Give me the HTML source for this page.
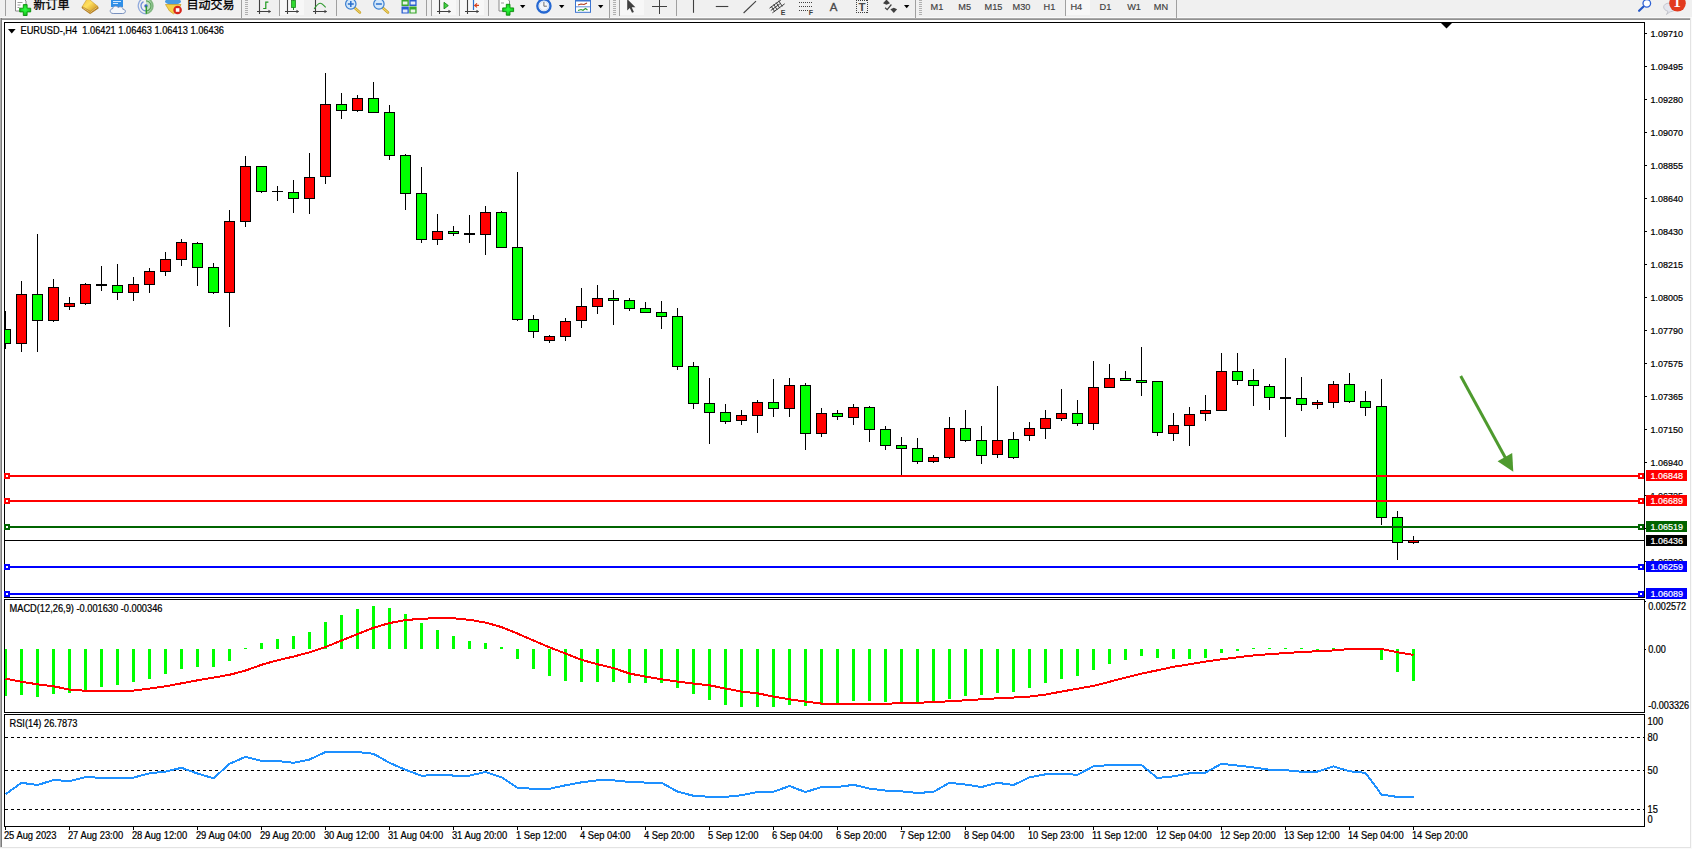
<!DOCTYPE html>
<html><head><meta charset="utf-8"><title>EURUSD-,H4</title>
<style>
html,body{margin:0;padding:0;}
body{width:1692px;height:849px;overflow:hidden;background:#fafafa;position:relative;font-family:"Liberation Sans","Noto Sans CJK SC",sans-serif;}
#frame{position:absolute;left:0;top:18px;width:1690px;height:829px;background:#fff;border-right:1px solid #e3e3e3;border-bottom:1px solid #e3e3e3;}
#fl{position:absolute;left:0;top:18px;width:2px;height:829px;background:linear-gradient(90deg,#acacac 50%,#7c7c7c 50%);}
#ft{position:absolute;left:0;top:18px;width:1690px;height:2px;background:linear-gradient(#b4b4b4,#868686);}
svg{position:absolute;left:0;top:0;}
.t{position:absolute;white-space:pre;color:#000;font-size:9px;line-height:10px;height:10px;-webkit-text-stroke:0.2px #000;transform:scaleY(1.1);transform-origin:0 50%;}
.tag{position:absolute;left:1646px;width:41px;height:11px;color:#fff;font-size:9px;line-height:12px;text-indent:4.5px;white-space:pre;overflow:hidden;-webkit-text-stroke:0.2px #fff;}
.tb{position:absolute;white-space:pre;color:#404040;font-size:9.2px;line-height:10px;top:1.6px;-webkit-text-stroke:0.15px #404040;}
.cj{position:absolute;white-space:pre;color:#000;font-size:12px;line-height:12px;top:-1.5px;-webkit-text-stroke:0.3px #000;}
</style></head><body>
<div id="frame"></div><div id="ft"></div><div id="fl"></div>

<svg id="chart" width="1692" height="849" viewBox="0 0 1692 849">
<g shape-rendering="crispEdges" fill="#000">
<rect x="4" y="22" width="1641" height="1"/>
<rect x="4" y="22" width="1" height="576"/>
<rect x="4" y="597" width="1641" height="1"/>
<rect x="1644" y="22" width="1" height="576"/>
<rect x="4" y="599" width="1641" height="1"/>
<rect x="4" y="599" width="1" height="114"/>
<rect x="4" y="712" width="1641" height="1"/>
<rect x="1644" y="599" width="1" height="114"/>
<rect x="4" y="714" width="1641" height="1"/>
<rect x="4" y="714" width="1" height="113"/>
<rect x="4" y="826" width="1641" height="1"/>
<rect x="1644" y="714" width="1" height="113"/>
<rect x="1645" y="33" width="2" height="1"/>
<rect x="1645" y="66" width="2" height="1"/>
<rect x="1645" y="99" width="2" height="1"/>
<rect x="1645" y="132" width="2" height="1"/>
<rect x="1645" y="165" width="2" height="1"/>
<rect x="1645" y="198" width="2" height="1"/>
<rect x="1645" y="231" width="2" height="1"/>
<rect x="1645" y="264" width="2" height="1"/>
<rect x="1645" y="297" width="2" height="1"/>
<rect x="1645" y="330" width="2" height="1"/>
<rect x="1645" y="363" width="2" height="1"/>
<rect x="1645" y="396" width="2" height="1"/>
<rect x="1645" y="429" width="2" height="1"/>
<rect x="1645" y="462" width="2" height="1"/>
<rect x="1645" y="495" width="2" height="1"/>
<rect x="1645" y="528" width="2" height="1"/>
<rect x="1645" y="561" width="2" height="1"/>
<rect x="1645" y="601" width="1" height="1"/>
<rect x="1645" y="649" width="1" height="1"/>
<rect x="5" y="827" width="1" height="3"/>
<rect x="69" y="827" width="1" height="3"/>
<rect x="133" y="827" width="1" height="3"/>
<rect x="197" y="827" width="1" height="3"/>
<rect x="261" y="827" width="1" height="3"/>
<rect x="325" y="827" width="1" height="3"/>
<rect x="389" y="827" width="1" height="3"/>
<rect x="453" y="827" width="1" height="3"/>
<rect x="517" y="827" width="1" height="3"/>
<rect x="581" y="827" width="1" height="3"/>
<rect x="645" y="827" width="1" height="3"/>
<rect x="709" y="827" width="1" height="3"/>
<rect x="773" y="827" width="1" height="3"/>
<rect x="837" y="827" width="1" height="3"/>
<rect x="901" y="827" width="1" height="3"/>
<rect x="965" y="827" width="1" height="3"/>
<rect x="1029" y="827" width="1" height="3"/>
<rect x="1093" y="827" width="1" height="3"/>
<rect x="1157" y="827" width="1" height="3"/>
<rect x="1221" y="827" width="1" height="3"/>
<rect x="1285" y="827" width="1" height="3"/>
<rect x="1349" y="827" width="1" height="3"/>
<rect x="1413" y="827" width="1" height="3"/>
</g>
<path d="M1441 23h11l-5.5 5.5z" fill="#000"/>
<defs><clipPath id="cm"><rect x="5" y="23" width="1639" height="574"/></clipPath><clipPath id="c2"><rect x="5" y="600" width="1639" height="112"/></clipPath><clipPath id="c3"><rect x="5" y="715" width="1639" height="111"/></clipPath></defs>
<rect x="5" y="540" width="1639" height="1" fill="#000" shape-rendering="crispEdges"/>
<g clip-path="url(#cm)" shape-rendering="crispEdges">
<rect x="5" y="311" width="1" height="38" fill="#000"/>
<rect x="0" y="329" width="11" height="15" fill="#000"/>
<rect x="1" y="330" width="9" height="13" fill="#00ff00"/>
<rect x="21" y="281" width="1" height="71" fill="#000"/>
<rect x="16" y="294" width="11" height="50" fill="#000"/>
<rect x="17" y="295" width="9" height="48" fill="#ff0000"/>
<rect x="37" y="234" width="1" height="118" fill="#000"/>
<rect x="32" y="294" width="11" height="27" fill="#000"/>
<rect x="33" y="295" width="9" height="25" fill="#00ff00"/>
<rect x="53" y="279" width="1" height="43" fill="#000"/>
<rect x="48" y="287" width="11" height="34" fill="#000"/>
<rect x="49" y="288" width="9" height="32" fill="#ff0000"/>
<rect x="69" y="297" width="1" height="13" fill="#000"/>
<rect x="64" y="303" width="11" height="4" fill="#000"/>
<rect x="65" y="304" width="9" height="2" fill="#ff0000"/>
<rect x="85" y="283" width="1" height="22" fill="#000"/>
<rect x="80" y="284" width="11" height="20" fill="#000"/>
<rect x="81" y="285" width="9" height="18" fill="#ff0000"/>
<rect x="101" y="266" width="1" height="25" fill="#000"/>
<rect x="96" y="284" width="11" height="2" fill="#000"/>
<rect x="117" y="264" width="1" height="36" fill="#000"/>
<rect x="112" y="285" width="11" height="8" fill="#000"/>
<rect x="113" y="286" width="9" height="6" fill="#00ff00"/>
<rect x="133" y="277" width="1" height="24" fill="#000"/>
<rect x="128" y="284" width="11" height="9" fill="#000"/>
<rect x="129" y="285" width="9" height="7" fill="#ff0000"/>
<rect x="149" y="268" width="1" height="25" fill="#000"/>
<rect x="144" y="271" width="11" height="14" fill="#000"/>
<rect x="145" y="272" width="9" height="12" fill="#ff0000"/>
<rect x="165" y="252" width="1" height="24" fill="#000"/>
<rect x="160" y="259" width="11" height="13" fill="#000"/>
<rect x="161" y="260" width="9" height="11" fill="#ff0000"/>
<rect x="181" y="239" width="1" height="27" fill="#000"/>
<rect x="176" y="242" width="11" height="18" fill="#000"/>
<rect x="177" y="243" width="9" height="16" fill="#ff0000"/>
<rect x="197" y="242" width="1" height="44" fill="#000"/>
<rect x="192" y="243" width="11" height="25" fill="#000"/>
<rect x="193" y="244" width="9" height="23" fill="#00ff00"/>
<rect x="213" y="263" width="1" height="31" fill="#000"/>
<rect x="208" y="267" width="11" height="26" fill="#000"/>
<rect x="209" y="268" width="9" height="24" fill="#00ff00"/>
<rect x="229" y="210" width="1" height="117" fill="#000"/>
<rect x="224" y="221" width="11" height="72" fill="#000"/>
<rect x="225" y="222" width="9" height="70" fill="#ff0000"/>
<rect x="245" y="156" width="1" height="71" fill="#000"/>
<rect x="240" y="166" width="11" height="56" fill="#000"/>
<rect x="241" y="167" width="9" height="54" fill="#ff0000"/>
<rect x="261" y="166" width="1" height="27" fill="#000"/>
<rect x="256" y="166" width="11" height="26" fill="#000"/>
<rect x="257" y="167" width="9" height="24" fill="#00ff00"/>
<rect x="277" y="186" width="1" height="15" fill="#000"/>
<rect x="272" y="191" width="11" height="1" fill="#000"/>
<rect x="293" y="180" width="1" height="33" fill="#000"/>
<rect x="288" y="192" width="11" height="7" fill="#000"/>
<rect x="289" y="193" width="9" height="5" fill="#00ff00"/>
<rect x="309" y="153" width="1" height="61" fill="#000"/>
<rect x="304" y="177" width="11" height="22" fill="#000"/>
<rect x="305" y="178" width="9" height="20" fill="#ff0000"/>
<rect x="325" y="73" width="1" height="111" fill="#000"/>
<rect x="320" y="104" width="11" height="73" fill="#000"/>
<rect x="321" y="105" width="9" height="71" fill="#ff0000"/>
<rect x="341" y="93" width="1" height="26" fill="#000"/>
<rect x="336" y="104" width="11" height="7" fill="#000"/>
<rect x="337" y="105" width="9" height="5" fill="#00ff00"/>
<rect x="357" y="95" width="1" height="17" fill="#000"/>
<rect x="352" y="98" width="11" height="13" fill="#000"/>
<rect x="353" y="99" width="9" height="11" fill="#ff0000"/>
<rect x="373" y="82" width="1" height="31" fill="#000"/>
<rect x="368" y="98" width="11" height="15" fill="#000"/>
<rect x="369" y="99" width="9" height="13" fill="#00ff00"/>
<rect x="389" y="105" width="1" height="55" fill="#000"/>
<rect x="384" y="112" width="11" height="44" fill="#000"/>
<rect x="385" y="113" width="9" height="42" fill="#00ff00"/>
<rect x="405" y="154" width="1" height="56" fill="#000"/>
<rect x="400" y="155" width="11" height="39" fill="#000"/>
<rect x="401" y="156" width="9" height="37" fill="#00ff00"/>
<rect x="421" y="167" width="1" height="76" fill="#000"/>
<rect x="416" y="193" width="11" height="47" fill="#000"/>
<rect x="417" y="194" width="9" height="45" fill="#00ff00"/>
<rect x="437" y="214" width="1" height="31" fill="#000"/>
<rect x="432" y="231" width="11" height="9" fill="#000"/>
<rect x="433" y="232" width="9" height="7" fill="#ff0000"/>
<rect x="453" y="226" width="1" height="10" fill="#000"/>
<rect x="448" y="231" width="11" height="3" fill="#000"/>
<rect x="449" y="232" width="9" height="1" fill="#00ff00"/>
<rect x="469" y="215" width="1" height="28" fill="#000"/>
<rect x="464" y="233" width="11" height="2" fill="#000"/>
<rect x="485" y="206" width="1" height="49" fill="#000"/>
<rect x="480" y="212" width="11" height="23" fill="#000"/>
<rect x="481" y="213" width="9" height="21" fill="#ff0000"/>
<rect x="501" y="211" width="1" height="37" fill="#000"/>
<rect x="496" y="212" width="11" height="36" fill="#000"/>
<rect x="497" y="213" width="9" height="34" fill="#00ff00"/>
<rect x="517" y="172" width="1" height="149" fill="#000"/>
<rect x="512" y="247" width="11" height="73" fill="#000"/>
<rect x="513" y="248" width="9" height="71" fill="#00ff00"/>
<rect x="533" y="315" width="1" height="23" fill="#000"/>
<rect x="528" y="319" width="11" height="13" fill="#000"/>
<rect x="529" y="320" width="9" height="11" fill="#00ff00"/>
<rect x="549" y="335" width="1" height="8" fill="#000"/>
<rect x="544" y="336" width="11" height="5" fill="#000"/>
<rect x="545" y="337" width="9" height="3" fill="#ff0000"/>
<rect x="565" y="318" width="1" height="23" fill="#000"/>
<rect x="560" y="321" width="11" height="16" fill="#000"/>
<rect x="561" y="322" width="9" height="14" fill="#ff0000"/>
<rect x="581" y="288" width="1" height="40" fill="#000"/>
<rect x="576" y="306" width="11" height="15" fill="#000"/>
<rect x="577" y="307" width="9" height="13" fill="#ff0000"/>
<rect x="597" y="285" width="1" height="29" fill="#000"/>
<rect x="592" y="298" width="11" height="9" fill="#000"/>
<rect x="593" y="299" width="9" height="7" fill="#ff0000"/>
<rect x="613" y="290" width="1" height="35" fill="#000"/>
<rect x="608" y="298" width="11" height="3" fill="#000"/>
<rect x="609" y="299" width="9" height="1" fill="#00ff00"/>
<rect x="629" y="298" width="1" height="13" fill="#000"/>
<rect x="624" y="300" width="11" height="9" fill="#000"/>
<rect x="625" y="301" width="9" height="7" fill="#00ff00"/>
<rect x="645" y="302" width="1" height="11" fill="#000"/>
<rect x="640" y="308" width="11" height="5" fill="#000"/>
<rect x="641" y="309" width="9" height="3" fill="#00ff00"/>
<rect x="661" y="301" width="1" height="28" fill="#000"/>
<rect x="656" y="312" width="11" height="5" fill="#000"/>
<rect x="657" y="313" width="9" height="3" fill="#00ff00"/>
<rect x="677" y="308" width="1" height="62" fill="#000"/>
<rect x="672" y="316" width="11" height="51" fill="#000"/>
<rect x="673" y="317" width="9" height="49" fill="#00ff00"/>
<rect x="693" y="362" width="1" height="47" fill="#000"/>
<rect x="688" y="366" width="11" height="38" fill="#000"/>
<rect x="689" y="367" width="9" height="36" fill="#00ff00"/>
<rect x="709" y="378" width="1" height="66" fill="#000"/>
<rect x="704" y="403" width="11" height="10" fill="#000"/>
<rect x="705" y="404" width="9" height="8" fill="#00ff00"/>
<rect x="725" y="404" width="1" height="20" fill="#000"/>
<rect x="720" y="412" width="11" height="10" fill="#000"/>
<rect x="721" y="413" width="9" height="8" fill="#00ff00"/>
<rect x="741" y="410" width="1" height="15" fill="#000"/>
<rect x="736" y="415" width="11" height="6" fill="#000"/>
<rect x="737" y="416" width="9" height="4" fill="#ff0000"/>
<rect x="757" y="400" width="1" height="33" fill="#000"/>
<rect x="752" y="402" width="11" height="14" fill="#000"/>
<rect x="753" y="403" width="9" height="12" fill="#ff0000"/>
<rect x="773" y="379" width="1" height="38" fill="#000"/>
<rect x="768" y="402" width="11" height="7" fill="#000"/>
<rect x="769" y="403" width="9" height="5" fill="#00ff00"/>
<rect x="789" y="378" width="1" height="39" fill="#000"/>
<rect x="784" y="385" width="11" height="24" fill="#000"/>
<rect x="785" y="386" width="9" height="22" fill="#ff0000"/>
<rect x="805" y="383" width="1" height="67" fill="#000"/>
<rect x="800" y="385" width="11" height="49" fill="#000"/>
<rect x="801" y="386" width="9" height="47" fill="#00ff00"/>
<rect x="821" y="408" width="1" height="29" fill="#000"/>
<rect x="816" y="413" width="11" height="21" fill="#000"/>
<rect x="817" y="414" width="9" height="19" fill="#ff0000"/>
<rect x="837" y="410" width="1" height="10" fill="#000"/>
<rect x="832" y="413" width="11" height="4" fill="#000"/>
<rect x="833" y="414" width="9" height="2" fill="#00ff00"/>
<rect x="853" y="404" width="1" height="21" fill="#000"/>
<rect x="848" y="407" width="11" height="11" fill="#000"/>
<rect x="849" y="408" width="9" height="9" fill="#ff0000"/>
<rect x="869" y="406" width="1" height="36" fill="#000"/>
<rect x="864" y="407" width="11" height="23" fill="#000"/>
<rect x="865" y="408" width="9" height="21" fill="#00ff00"/>
<rect x="885" y="426" width="1" height="24" fill="#000"/>
<rect x="880" y="429" width="11" height="17" fill="#000"/>
<rect x="881" y="430" width="9" height="15" fill="#00ff00"/>
<rect x="901" y="437" width="1" height="39" fill="#000"/>
<rect x="896" y="445" width="11" height="4" fill="#000"/>
<rect x="897" y="446" width="9" height="2" fill="#00ff00"/>
<rect x="917" y="438" width="1" height="26" fill="#000"/>
<rect x="912" y="448" width="11" height="14" fill="#000"/>
<rect x="913" y="449" width="9" height="12" fill="#00ff00"/>
<rect x="933" y="455" width="1" height="8" fill="#000"/>
<rect x="928" y="457" width="11" height="5" fill="#000"/>
<rect x="929" y="458" width="9" height="3" fill="#ff0000"/>
<rect x="949" y="417" width="1" height="42" fill="#000"/>
<rect x="944" y="428" width="11" height="30" fill="#000"/>
<rect x="945" y="429" width="9" height="28" fill="#ff0000"/>
<rect x="965" y="410" width="1" height="32" fill="#000"/>
<rect x="960" y="428" width="11" height="13" fill="#000"/>
<rect x="961" y="429" width="9" height="11" fill="#00ff00"/>
<rect x="981" y="426" width="1" height="38" fill="#000"/>
<rect x="976" y="440" width="11" height="16" fill="#000"/>
<rect x="977" y="441" width="9" height="14" fill="#00ff00"/>
<rect x="997" y="386" width="1" height="72" fill="#000"/>
<rect x="992" y="440" width="11" height="15" fill="#000"/>
<rect x="993" y="441" width="9" height="13" fill="#ff0000"/>
<rect x="1013" y="432" width="1" height="27" fill="#000"/>
<rect x="1008" y="439" width="11" height="19" fill="#000"/>
<rect x="1009" y="440" width="9" height="17" fill="#00ff00"/>
<rect x="1029" y="422" width="1" height="19" fill="#000"/>
<rect x="1024" y="428" width="11" height="8" fill="#000"/>
<rect x="1025" y="429" width="9" height="6" fill="#ff0000"/>
<rect x="1045" y="410" width="1" height="29" fill="#000"/>
<rect x="1040" y="418" width="11" height="11" fill="#000"/>
<rect x="1041" y="419" width="9" height="9" fill="#ff0000"/>
<rect x="1061" y="389" width="1" height="32" fill="#000"/>
<rect x="1056" y="413" width="11" height="6" fill="#000"/>
<rect x="1057" y="414" width="9" height="4" fill="#ff0000"/>
<rect x="1077" y="400" width="1" height="26" fill="#000"/>
<rect x="1072" y="413" width="11" height="11" fill="#000"/>
<rect x="1073" y="414" width="9" height="9" fill="#00ff00"/>
<rect x="1093" y="361" width="1" height="69" fill="#000"/>
<rect x="1088" y="387" width="11" height="37" fill="#000"/>
<rect x="1089" y="388" width="9" height="35" fill="#ff0000"/>
<rect x="1109" y="364" width="1" height="24" fill="#000"/>
<rect x="1104" y="378" width="11" height="10" fill="#000"/>
<rect x="1105" y="379" width="9" height="8" fill="#ff0000"/>
<rect x="1125" y="371" width="1" height="10" fill="#000"/>
<rect x="1120" y="378" width="11" height="3" fill="#000"/>
<rect x="1121" y="379" width="9" height="1" fill="#00ff00"/>
<rect x="1141" y="347" width="1" height="49" fill="#000"/>
<rect x="1136" y="380" width="11" height="3" fill="#000"/>
<rect x="1137" y="381" width="9" height="1" fill="#00ff00"/>
<rect x="1157" y="381" width="1" height="55" fill="#000"/>
<rect x="1152" y="381" width="11" height="52" fill="#000"/>
<rect x="1153" y="382" width="9" height="50" fill="#00ff00"/>
<rect x="1173" y="413" width="1" height="28" fill="#000"/>
<rect x="1168" y="425" width="11" height="9" fill="#000"/>
<rect x="1169" y="426" width="9" height="7" fill="#ff0000"/>
<rect x="1189" y="407" width="1" height="39" fill="#000"/>
<rect x="1184" y="414" width="11" height="12" fill="#000"/>
<rect x="1185" y="415" width="9" height="10" fill="#ff0000"/>
<rect x="1205" y="395" width="1" height="26" fill="#000"/>
<rect x="1200" y="410" width="11" height="4" fill="#000"/>
<rect x="1201" y="411" width="9" height="2" fill="#ff0000"/>
<rect x="1221" y="353" width="1" height="58" fill="#000"/>
<rect x="1216" y="371" width="11" height="40" fill="#000"/>
<rect x="1217" y="372" width="9" height="38" fill="#ff0000"/>
<rect x="1237" y="353" width="1" height="32" fill="#000"/>
<rect x="1232" y="371" width="11" height="10" fill="#000"/>
<rect x="1233" y="372" width="9" height="8" fill="#00ff00"/>
<rect x="1253" y="369" width="1" height="37" fill="#000"/>
<rect x="1248" y="380" width="11" height="6" fill="#000"/>
<rect x="1249" y="381" width="9" height="4" fill="#00ff00"/>
<rect x="1269" y="384" width="1" height="26" fill="#000"/>
<rect x="1264" y="386" width="11" height="12" fill="#000"/>
<rect x="1265" y="387" width="9" height="10" fill="#00ff00"/>
<rect x="1285" y="358" width="1" height="79" fill="#000"/>
<rect x="1280" y="397" width="11" height="2" fill="#000"/>
<rect x="1301" y="377" width="1" height="34" fill="#000"/>
<rect x="1296" y="398" width="11" height="7" fill="#000"/>
<rect x="1297" y="399" width="9" height="5" fill="#00ff00"/>
<rect x="1317" y="400" width="1" height="9" fill="#000"/>
<rect x="1312" y="402" width="11" height="3" fill="#000"/>
<rect x="1313" y="403" width="9" height="1" fill="#ff0000"/>
<rect x="1333" y="381" width="1" height="27" fill="#000"/>
<rect x="1328" y="384" width="11" height="19" fill="#000"/>
<rect x="1329" y="385" width="9" height="17" fill="#ff0000"/>
<rect x="1349" y="373" width="1" height="30" fill="#000"/>
<rect x="1344" y="384" width="11" height="18" fill="#000"/>
<rect x="1345" y="385" width="9" height="16" fill="#00ff00"/>
<rect x="1365" y="391" width="1" height="25" fill="#000"/>
<rect x="1360" y="401" width="11" height="7" fill="#000"/>
<rect x="1361" y="402" width="9" height="5" fill="#00ff00"/>
<rect x="1381" y="379" width="1" height="146" fill="#000"/>
<rect x="1376" y="406" width="11" height="112" fill="#000"/>
<rect x="1377" y="407" width="9" height="110" fill="#00ff00"/>
<rect x="1397" y="511" width="1" height="49" fill="#000"/>
<rect x="1392" y="517" width="11" height="26" fill="#000"/>
<rect x="1393" y="518" width="9" height="24" fill="#00ff00"/>
<rect x="1413" y="536" width="1" height="8" fill="#000"/>
<rect x="1408" y="540" width="11" height="3" fill="#000"/>
<rect x="1409" y="541" width="9" height="1" fill="#ff0000"/>
</g>
<g shape-rendering="crispEdges">
<rect x="5" y="475" width="1639" height="2" fill="#ff0000"/>
<rect x="4" y="473" width="6" height="6" fill="#ff0000"/><rect x="6" y="475" width="2" height="2" fill="#fff"/>
<rect x="1638" y="473" width="6" height="6" fill="#ff0000"/><rect x="1640" y="475" width="2" height="2" fill="#fff"/>
<rect x="5" y="500" width="1639" height="2" fill="#ff0000"/>
<rect x="4" y="498" width="6" height="6" fill="#ff0000"/><rect x="6" y="500" width="2" height="2" fill="#fff"/>
<rect x="1638" y="498" width="6" height="6" fill="#ff0000"/><rect x="1640" y="500" width="2" height="2" fill="#fff"/>
<rect x="5" y="526" width="1639" height="2" fill="#006400"/>
<rect x="4" y="524" width="6" height="6" fill="#006400"/><rect x="6" y="526" width="2" height="2" fill="#fff"/>
<rect x="1638" y="524" width="6" height="6" fill="#006400"/><rect x="1640" y="526" width="2" height="2" fill="#fff"/>
<rect x="5" y="566" width="1639" height="2" fill="#0000ff"/>
<rect x="4" y="564" width="6" height="6" fill="#0000ff"/><rect x="6" y="566" width="2" height="2" fill="#fff"/>
<rect x="1638" y="564" width="6" height="6" fill="#0000ff"/><rect x="1640" y="566" width="2" height="2" fill="#fff"/>
<rect x="5" y="593" width="1639" height="2" fill="#0000ff"/>
<rect x="4" y="591" width="6" height="6" fill="#0000ff"/><rect x="6" y="593" width="2" height="2" fill="#fff"/>
<rect x="1638" y="591" width="6" height="6" fill="#0000ff"/><rect x="1640" y="593" width="2" height="2" fill="#fff"/>
</g>
<g fill="#4e9a2e" stroke="none"><path d="M1459.4 376.7L1462 375.3L1507.5 458.5L1504.9 459.9z"/><path d="M1513.3 471.8L1497.6 461.2L1512.2 453z"/></g>
<g clip-path="url(#c2)">
<g shape-rendering="crispEdges" fill="#00ff00">
<rect x="4" y="649" width="3" height="47"/>
<rect x="20" y="649" width="3" height="46"/>
<rect x="36" y="649" width="3" height="48"/>
<rect x="52" y="649" width="3" height="45"/>
<rect x="68" y="649" width="3" height="44"/>
<rect x="84" y="649" width="3" height="41"/>
<rect x="100" y="649" width="3" height="38"/>
<rect x="116" y="649" width="3" height="36"/>
<rect x="132" y="649" width="3" height="33"/>
<rect x="148" y="649" width="3" height="30"/>
<rect x="164" y="649" width="3" height="25"/>
<rect x="180" y="649" width="3" height="20"/>
<rect x="196" y="649" width="3" height="18"/>
<rect x="212" y="649" width="3" height="18"/>
<rect x="228" y="649" width="3" height="12"/>
<rect x="244" y="648" width="3" height="1"/>
<rect x="260" y="643" width="3" height="6"/>
<rect x="276" y="639" width="3" height="10"/>
<rect x="292" y="636" width="3" height="13"/>
<rect x="308" y="632" width="3" height="17"/>
<rect x="324" y="622" width="3" height="27"/>
<rect x="340" y="615" width="3" height="34"/>
<rect x="356" y="609" width="3" height="40"/>
<rect x="372" y="606" width="3" height="43"/>
<rect x="388" y="608" width="3" height="41"/>
<rect x="404" y="614" width="3" height="35"/>
<rect x="420" y="623" width="3" height="26"/>
<rect x="436" y="630" width="3" height="19"/>
<rect x="452" y="636" width="3" height="13"/>
<rect x="468" y="641" width="3" height="8"/>
<rect x="484" y="643" width="3" height="6"/>
<rect x="500" y="647" width="3" height="2"/>
<rect x="516" y="649" width="3" height="10"/>
<rect x="532" y="649" width="3" height="20"/>
<rect x="548" y="649" width="3" height="27"/>
<rect x="564" y="649" width="3" height="32"/>
<rect x="580" y="649" width="3" height="33"/>
<rect x="596" y="649" width="3" height="33"/>
<rect x="612" y="649" width="3" height="33"/>
<rect x="628" y="649" width="3" height="34"/>
<rect x="644" y="649" width="3" height="34"/>
<rect x="660" y="649" width="3" height="34"/>
<rect x="676" y="649" width="3" height="39"/>
<rect x="692" y="649" width="3" height="45"/>
<rect x="708" y="649" width="3" height="51"/>
<rect x="724" y="649" width="3" height="56"/>
<rect x="740" y="649" width="3" height="58"/>
<rect x="756" y="649" width="3" height="58"/>
<rect x="772" y="649" width="3" height="58"/>
<rect x="788" y="649" width="3" height="56"/>
<rect x="804" y="649" width="3" height="57"/>
<rect x="820" y="649" width="3" height="56"/>
<rect x="836" y="649" width="3" height="54"/>
<rect x="852" y="649" width="3" height="52"/>
<rect x="868" y="649" width="3" height="52"/>
<rect x="884" y="649" width="3" height="53"/>
<rect x="900" y="649" width="3" height="54"/>
<rect x="916" y="649" width="3" height="54"/>
<rect x="932" y="649" width="3" height="52"/>
<rect x="948" y="649" width="3" height="50"/>
<rect x="964" y="649" width="3" height="47"/>
<rect x="980" y="649" width="3" height="46"/>
<rect x="996" y="649" width="3" height="44"/>
<rect x="1012" y="649" width="3" height="43"/>
<rect x="1028" y="649" width="3" height="39"/>
<rect x="1044" y="649" width="3" height="34"/>
<rect x="1060" y="649" width="3" height="30"/>
<rect x="1076" y="649" width="3" height="27"/>
<rect x="1092" y="649" width="3" height="21"/>
<rect x="1108" y="649" width="3" height="15"/>
<rect x="1124" y="649" width="3" height="11"/>
<rect x="1140" y="649" width="3" height="7"/>
<rect x="1156" y="649" width="3" height="9"/>
<rect x="1172" y="649" width="3" height="10"/>
<rect x="1188" y="649" width="3" height="10"/>
<rect x="1204" y="649" width="3" height="9"/>
<rect x="1220" y="649" width="3" height="4"/>
<rect x="1236" y="649" width="3" height="2"/>
<rect x="1252" y="648" width="3" height="1"/>
<rect x="1268" y="648" width="3" height="1"/>
<rect x="1284" y="648" width="3" height="1"/>
<rect x="1300" y="648" width="3" height="1"/>
<rect x="1316" y="649" width="3" height="1"/>
<rect x="1332" y="648" width="3" height="1"/>
<rect x="1348" y="649" width="3" height="1"/>
<rect x="1364" y="649" width="3" height="1"/>
<rect x="1380" y="649" width="3" height="11"/>
<rect x="1396" y="649" width="3" height="23"/>
<rect x="1412" y="649" width="3" height="32"/>
</g>
<polyline points="5.5,678.55 21.5,681.80 37.5,684.30 53.5,686.30 69.5,689.55 85.5,690.80 101.5,690.80 117.5,690.80 133.5,690.55 149.5,688.55 165.5,686.30 181.5,683.30 197.5,680.30 213.5,677.55 229.5,674.80 245.5,670.55 261.5,664.80 277.5,660.30 293.5,656.55 309.5,652.30 325.5,647.05 341.5,640.55 357.5,634.05 373.5,627.80 389.5,623.05 405.5,620.05 421.5,618.80 437.5,618.05 453.5,618.30 469.5,619.80 485.5,622.55 501.5,627.05 517.5,633.55 533.5,640.55 549.5,647.30 565.5,653.55 581.5,659.80 597.5,664.30 613.5,668.05 629.5,673.55 645.5,676.55 661.5,679.30 677.5,681.55 693.5,683.55 709.5,685.30 725.5,688.55 741.5,691.55 757.5,693.30 773.5,696.55 789.5,699.30 805.5,701.55 821.5,703.55 837.5,704.05 853.5,704.05 869.5,704.05 885.5,703.80 901.5,703.05 917.5,702.80 933.5,702.05 949.5,701.30 965.5,700.30 981.5,699.30 997.5,698.30 1013.5,697.55 1029.5,696.55 1045.5,694.55 1061.5,691.55 1077.5,688.80 1093.5,685.80 1109.5,681.80 1125.5,677.55 1141.5,673.55 1157.5,670.30 1173.5,666.80 1189.5,664.30 1205.5,661.55 1221.5,659.30 1237.5,657.30 1253.5,655.45 1269.5,654.15 1285.5,653.05 1301.5,652.05 1317.5,651.25 1333.5,650.45 1349.5,649.05 1365.5,648.75 1381.5,649.05 1397.5,652.25 1413.5,654.95" fill="none" stroke="#ff0000" stroke-width="2" stroke-linejoin="round" shape-rendering="crispEdges"/>
</g>
<g clip-path="url(#c3)">
<line x1="5" y1="737.5" x2="1644" y2="737.5" stroke="#000" stroke-width="1" stroke-dasharray="3 3" shape-rendering="crispEdges"/>
<line x1="5" y1="770.5" x2="1644" y2="770.5" stroke="#000" stroke-width="1" stroke-dasharray="3 3" shape-rendering="crispEdges"/>
<line x1="5" y1="809.5" x2="1644" y2="809.5" stroke="#000" stroke-width="1" stroke-dasharray="3 3" shape-rendering="crispEdges"/>
<polyline points="5.5,794.30 21.5,782.80 37.5,785.05 53.5,780.05 69.5,781.05 85.5,777.05 101.5,777.80 117.5,777.80 133.5,777.55 149.5,773.30 165.5,771.55 181.5,767.80 197.5,773.55 213.5,778.30 229.5,763.80 245.5,756.80 261.5,760.80 277.5,761.05 293.5,762.80 309.5,759.55 325.5,752.05 341.5,752.05 357.5,752.05 373.5,753.80 389.5,762.80 405.5,769.80 421.5,775.80 437.5,774.80 453.5,775.55 469.5,775.55 485.5,772.05 501.5,777.30 517.5,787.80 533.5,788.80 549.5,788.80 565.5,785.30 581.5,782.30 597.5,780.30 613.5,780.30 629.5,782.05 645.5,782.55 661.5,782.80 677.5,791.55 693.5,795.80 709.5,796.80 725.5,796.80 741.5,795.30 757.5,792.05 773.5,791.80 789.5,786.05 805.5,792.05 821.5,787.05 837.5,787.05 853.5,784.80 869.5,788.55 885.5,790.55 901.5,791.30 917.5,793.05 933.5,791.80 949.5,782.80 965.5,784.55 981.5,787.05 997.5,782.80 1013.5,785.05 1029.5,777.30 1045.5,774.30 1061.5,773.80 1077.5,774.80 1093.5,766.30 1109.5,765.05 1125.5,765.05 1141.5,765.05 1157.5,778.05 1173.5,776.30 1189.5,773.30 1205.5,772.55 1221.5,763.80 1237.5,765.55 1253.5,767.45 1269.5,769.65 1285.5,770.15 1301.5,771.75 1317.5,771.55 1333.5,766.45 1349.5,771.25 1365.5,772.85 1381.5,794.55 1397.5,796.95 1413.5,796.95" fill="none" stroke="#1e90ff" stroke-width="2" stroke-linejoin="round" shape-rendering="crispEdges"/>
</g>
</svg>
<div class="t" style="left:20.5px;top:26px;font-size:9.27px" id="t1">EURUSD-,H4  1.06421 1.06463 1.06413 1.06436</div>
<svg width="8" height="5" style="left:8px;top:29px" viewBox="0 0 8 5"><path d="M0 0h7.6l-3.8 4.4z" fill="#000"/></svg>
<div class="t" style="left:9.5px;top:604.4px;font-size:9.27px" id="t2">MACD(12,26,9) -0.001630 -0.000346</div>
<div class="t" style="left:9.5px;top:719px;font-size:9.27px" id="t3">RSI(14) 26.7873</div>
<div class="t" style="left:1650.5px;top:28.6px;">1.09710</div>
<div class="t" style="left:1650.5px;top:61.6px;">1.09495</div>
<div class="t" style="left:1650.5px;top:94.6px;">1.09280</div>
<div class="t" style="left:1650.5px;top:127.6px;">1.09070</div>
<div class="t" style="left:1650.5px;top:160.6px;">1.08855</div>
<div class="t" style="left:1650.5px;top:193.6px;">1.08640</div>
<div class="t" style="left:1650.5px;top:226.6px;">1.08430</div>
<div class="t" style="left:1650.5px;top:259.6px;">1.08215</div>
<div class="t" style="left:1650.5px;top:292.6px;">1.08005</div>
<div class="t" style="left:1650.5px;top:325.6px;">1.07790</div>
<div class="t" style="left:1650.5px;top:358.6px;">1.07575</div>
<div class="t" style="left:1650.5px;top:391.6px;">1.07365</div>
<div class="t" style="left:1650.5px;top:424.6px;">1.07150</div>
<div class="t" style="left:1650.5px;top:457.6px;">1.06940</div>
<div class="t" style="left:1650.5px;top:490.6px;">1.06725</div>
<div class="t" style="left:1650.5px;top:523.6px;">1.06510</div>
<div class="t" style="left:1650.5px;top:556.6px;">1.06300</div>
<div class="tag" style="top:470px;background:#ff0000;">1.06848</div>
<div class="tag" style="top:495px;background:#ff0000;">1.06689</div>
<div class="tag" style="top:521px;background:#006400;">1.06519</div>
<div class="tag" style="top:535px;background:#000;">1.06436</div>
<div class="tag" style="top:561px;background:#0000ff;">1.06259</div>
<div class="tag" style="top:588px;background:#0000ff;">1.06089</div>
<div class="t" style="left:1648.2px;top:601.9px;font-size:9.1px">0.002572</div>
<div class="t" style="left:1648.2px;top:644.6px;font-size:9.1px">0.00</div>
<div class="t" style="left:1648.2px;top:700.9px;font-size:9.1px">-0.003326</div>
<div class="t" style="left:1647.6px;top:716.5px;font-size:9.3px">100</div>
<div class="t" style="left:1647.6px;top:732.5px;font-size:9.3px">80</div>
<div class="t" style="left:1647.6px;top:765.5px;font-size:9.3px">50</div>
<div class="t" style="left:1647.6px;top:804.5px;font-size:9.3px">15</div>
<div class="t" style="left:1647.6px;top:814.5px;font-size:9.3px">0</div>
<div class="t" style="left:3.9px;top:831.4px;font-size:9.4px">25 Aug 2023</div>
<div class="t" style="left:67.9px;top:831.4px;font-size:9.4px">27 Aug 23:00</div>
<div class="t" style="left:131.9px;top:831.4px;font-size:9.4px">28 Aug 12:00</div>
<div class="t" style="left:195.9px;top:831.4px;font-size:9.4px">29 Aug 04:00</div>
<div class="t" style="left:259.9px;top:831.4px;font-size:9.4px">29 Aug 20:00</div>
<div class="t" style="left:323.9px;top:831.4px;font-size:9.4px">30 Aug 12:00</div>
<div class="t" style="left:387.9px;top:831.4px;font-size:9.4px">31 Aug 04:00</div>
<div class="t" style="left:451.9px;top:831.4px;font-size:9.4px">31 Aug 20:00</div>
<div class="t" style="left:515.9px;top:831.4px;font-size:9.4px">1 Sep 12:00</div>
<div class="t" style="left:579.9px;top:831.4px;font-size:9.4px">4 Sep 04:00</div>
<div class="t" style="left:643.9px;top:831.4px;font-size:9.4px">4 Sep 20:00</div>
<div class="t" style="left:707.9px;top:831.4px;font-size:9.4px">5 Sep 12:00</div>
<div class="t" style="left:771.9px;top:831.4px;font-size:9.4px">6 Sep 04:00</div>
<div class="t" style="left:835.9px;top:831.4px;font-size:9.4px">6 Sep 20:00</div>
<div class="t" style="left:899.9px;top:831.4px;font-size:9.4px">7 Sep 12:00</div>
<div class="t" style="left:963.9px;top:831.4px;font-size:9.4px">8 Sep 04:00</div>
<div class="t" style="left:1027.9px;top:831.4px;font-size:9.4px">10 Sep 23:00</div>
<div class="t" style="left:1091.9px;top:831.4px;font-size:9.4px">11 Sep 12:00</div>
<div class="t" style="left:1155.9px;top:831.4px;font-size:9.4px">12 Sep 04:00</div>
<div class="t" style="left:1219.9px;top:831.4px;font-size:9.4px">12 Sep 20:00</div>
<div class="t" style="left:1283.9px;top:831.4px;font-size:9.4px">13 Sep 12:00</div>
<div class="t" style="left:1347.9px;top:831.4px;font-size:9.4px">14 Sep 04:00</div>
<div class="t" style="left:1411.9px;top:831.4px;font-size:9.4px">14 Sep 20:00</div>
<div id="tbbg" style="position:absolute;left:0;top:0;width:1692px;height:18px;background:#f0f0f0;"></div><div style="position:absolute;left:0;top:17px;width:1692px;height:1px;background:#f9f9f9"></div>
<div style="position:absolute;left:280px;top:0;width:24px;height:15px;background:#f7f7f7;"></div>
<div style="position:absolute;left:432px;top:0;width:24px;height:15px;background:#f7f7f7;"></div>
<div style="position:absolute;left:460px;top:0;width:24px;height:15px;background:#f7f7f7;"></div>
<div style="position:absolute;left:620px;top:0;width:24px;height:15px;background:#f7f7f7;"></div>
<div style="position:absolute;left:1066px;top:0;width:24px;height:15px;background:#f7f7f7;"></div>
<svg id="tb" width="1692" height="18" viewBox="0 0 1692 18">
<defs><radialGradient id="pg" cx=".5" cy=".45" r=".6"><stop offset="0" stop-color="#30ff40"/><stop offset=".6" stop-color="#1cd82a"/><stop offset="1" stop-color="#0fae1a"/></radialGradient></defs>
<g shape-rendering="crispEdges" fill="#a0a0a0">
<rect x="5" y="0" width="1" height="16"/>
<rect x="241" y="0" width="1" height="18"/>
<rect x="279" y="0" width="1" height="16"/>
<rect x="336" y="0" width="1" height="16"/>
<rect x="426" y="0" width="1" height="16"/>
<rect x="431" y="0" width="1" height="16"/>
<rect x="459" y="0" width="1" height="16"/>
<rect x="488" y="0" width="1" height="16"/>
<rect x="609" y="0" width="1" height="18"/>
<rect x="619" y="0" width="1" height="16"/>
<rect x="676" y="0" width="1" height="16"/>
<rect x="915" y="0" width="1" height="18"/>
<rect x="1065" y="0" width="1" height="16"/>
<rect x="1176" y="0" width="1" height="18"/>
</g>
<g shape-rendering="crispEdges" fill="#b0b0b0">
<rect x="245" y="0" width="3" height="1"/>
<rect x="245" y="2" width="3" height="1"/>
<rect x="245" y="4" width="3" height="1"/>
<rect x="245" y="6" width="3" height="1"/>
<rect x="245" y="8" width="3" height="1"/>
<rect x="245" y="10" width="3" height="1"/>
<rect x="245" y="12" width="3" height="1"/>
<rect x="245" y="14" width="3" height="1"/>
<rect x="613" y="0" width="3" height="1"/>
<rect x="613" y="2" width="3" height="1"/>
<rect x="613" y="4" width="3" height="1"/>
<rect x="613" y="6" width="3" height="1"/>
<rect x="613" y="8" width="3" height="1"/>
<rect x="613" y="10" width="3" height="1"/>
<rect x="613" y="12" width="3" height="1"/>
<rect x="613" y="14" width="3" height="1"/>
<rect x="919" y="0" width="3" height="1"/>
<rect x="919" y="2" width="3" height="1"/>
<rect x="919" y="4" width="3" height="1"/>
<rect x="919" y="6" width="3" height="1"/>
<rect x="919" y="8" width="3" height="1"/>
<rect x="919" y="10" width="3" height="1"/>
<rect x="919" y="12" width="3" height="1"/>
<rect x="919" y="14" width="3" height="1"/>
</g>
<g><path d="M15.5 -2h7.5l3 3v10h-10.5z" fill="#fff" stroke="#8a8a8a" stroke-width="1"/><path d="M17.5 2.5h5M17.5 5h3M17.5 7.5h2" stroke="#9a9a9a" stroke-width="1" fill="none"/><path d="M23.3 4.6h3.8v3.6h3.6v3.7h-3.6v3.6h-3.8v-3.6h-3.6v-3.7h3.6z" fill="url(#pg)" stroke="#0b8f0b" stroke-width="0.9" stroke-linejoin="round"/></g>
<defs><linearGradient id="gb" x1="0" y1="0" x2="1" y2="1"><stop offset="0" stop-color="#f0c040"/><stop offset=".45" stop-color="#ffe060"/><stop offset="1" stop-color="#c88a18"/></linearGradient></defs>
<g><path d="M82.300 6.500L90.500 11.200L97.600 6.200L98.400 8.200L90.100 13.800L81.900 7.900z" fill="#b87c14" stroke="#a06a10" stroke-width="0.500" stroke-linejoin="round"/><path d="M87.600 -2L97.600 6.200L90.500 11.200L82.300 6.500z" fill="url(#gb)" stroke="#c08a1c" stroke-width="0.500"/><path d="M82.800 7.600l7.400 4.700l7.300-5.200" stroke="#f3dc98" stroke-width="0.700" fill="none"/></g>
<g><rect x="111" y="-2" width="12" height="9" fill="#2f8fe8"/><path d="M113 1.5h8M113 3.5h5" stroke="#cfe6ff" stroke-width="1"/><path d="M113.2 13.500c-3.800 0-3.900-4.600-.6-4.800c.3-3 4.300-3.600 5.600-1.100c1.800-1.700 4.900-.6 4.700 1.700c3.300 0 3.400 4.200-.2 4.200z" fill="#f4f7fb" stroke="#6b86b8" stroke-width="0.9"/></g>
<g fill="none"><path d="M146 -2a7.900 7.900 0 0 1 0 15.800z" fill="#9fd09f" opacity=".55"/><path d="M146 -2a8 8 0 0 1 0 15.800" stroke="#6aa86a" stroke-width="1.6" opacity=".75"/><path d="M146 13.800a8 8 0 0 1-3-15.300" stroke="#8fa8dc" stroke-width="1.300"/><path d="M146 0.900a5 5 0 0 1 0 10" stroke="#59a559" stroke-width="1.300"/><path d="M146 10.900a5 5 0 0 1-2.500-9.300" stroke="#6f8fd6" stroke-width="1.300"/><circle cx="146" cy="5.900" r="1.700" fill="#3a66c8"/><path d="M146.300 6v7.700" stroke="#2f9a2f" stroke-width="1.500"/></g>
<g><ellipse cx="173" cy="1.500" rx="8" ry="3.200" fill="#4a9be0"/><path d="M165.500 4.500h15.500l-3.500 6.500l-4 2.800l-4-2.800z" fill="#f4d14a" stroke="#c79a1e" stroke-width="0.700"/><circle cx="177.600" cy="10" r="4.300" fill="#d8261c"/><rect x="175.800" y="8.200" width="3.600" height="3.600" fill="#fff"/></g>
<g><path d="M259.5 0v14M257 11.500h13.500" stroke="#404040" stroke-width="1.100" fill="none"/><path d="M268.5 9.800l2.500 1.700l-2.500 1.700z" fill="#404040"/><path d="M265.800 1.500v7.600M265.800 2.200h2.600M263.200 8.500h2.600" stroke="#1f9a1f" stroke-width="1.200" fill="none" stroke-linejoin="miter"/></g>
<g><path d="M287.5 0v14M285 11.500h13.500" stroke="#404040" stroke-width="1.100" fill="none"/><path d="M296.5 9.800l2.500 1.700l-2.500 1.700z" fill="#404040"/><path d="M293.500 -1v11" stroke="#1f8a1f" stroke-width="1"/><rect x="291.500" y="0.500" width="4" height="7" fill="#2fd82f" stroke="#1f8a1f" stroke-width="0.800"/></g>
<g><path d="M315.5 0v14M313 11.500h13.500" stroke="#404040" stroke-width="1.100" fill="none"/><path d="M324.5 9.800l2.500 1.700l-2.500 1.700z" fill="#404040"/><path d="M314.200 8.900c2-3 4.200-5.600 6.200-5.600s3.300 2 5.300 4" stroke="#2f9a2f" stroke-width="1.100" fill="none"/></g>
<g><path d="M354.3 7.600l5.600 4.800" stroke="#c9a227" stroke-width="2.600" stroke-linecap="round"/><path d="M354.3 7.600l5.600 4.800" stroke="#f1d66a" stroke-width="1.100" stroke-linecap="round"/><circle cx="350.8" cy="4" r="5.200" fill="#d4e8fa" stroke="#3b7fd0" stroke-width="1.200"/><path d="M347.8 4h6M350.8 1v6" stroke="#2a6fcc" stroke-width="1.500"/></g>
<g><path d="M382.4 7.600l5.600 4.800" stroke="#c9a227" stroke-width="2.600" stroke-linecap="round"/><path d="M382.4 7.600l5.600 4.800" stroke="#f1d66a" stroke-width="1.100" stroke-linecap="round"/><circle cx="378.9" cy="4" r="5.200" fill="#d4e8fa" stroke="#3b7fd0" stroke-width="1.200"/><path d="M375.9 4h6" stroke="#2a6fcc" stroke-width="1.500"/></g>
<g><rect x="401.500" y="-1" width="7.300" height="7" fill="#3aa82e"/><rect x="409.300" y="-1" width="7.300" height="7" fill="#2b5fd0"/><rect x="401.500" y="6.500" width="7.300" height="7" fill="#2b5fd0"/><rect x="409.300" y="6.500" width="7.300" height="7" fill="#3aa82e"/><rect x="402.800" y="1.500" width="4.700" height="3" fill="#eaf6e6"/><rect x="410.600" y="1.500" width="4.700" height="3" fill="#e6ecfa"/><rect x="402.800" y="9.500" width="4.700" height="3" fill="#e6ecfa"/><rect x="410.600" y="9.500" width="4.700" height="3" fill="#eaf6e6"/></g>
<g><path d="M439.5 0v14M437 11.500h13.500" stroke="#404040" stroke-width="1.100" fill="none"/><path d="M448.5 9.800l2.500 1.700l-2.500 1.700z" fill="#404040"/><path d="M444 2.300l4.300 3.300l-4.300 3.300z" fill="#3fd43f" stroke="#1f8a1f" stroke-width="0.900"/></g>
<g><path d="M467.5 0v14M465 11.500h13.500" stroke="#404040" stroke-width="1.100" fill="none"/><path d="M476.5 9.800l2.500 1.700l-2.500 1.700z" fill="#404040"/><path d="M473.500 0v10" stroke="#2a6fcc" stroke-width="1.200"/><path d="M479 5.400h-4M477 3.400l-2.300 2l2.300 2" stroke="#d8421c" stroke-width="1.200" fill="none"/></g>
<g><path d="M499 -2h7.500l3 3v10h-10.500z" fill="#fff" stroke="#8a8a8a" stroke-width="1"/><path d="M501 3h3" stroke="#9a9a9a"/><path d="M506.300 4.300h3.700v3.600h3.600v3.700h-3.600v3.600h-3.700v-3.600h-3.600v-3.700h3.600z" fill="url(#pg)" stroke="#0b8f0b" stroke-width="0.900" stroke-linejoin="round"/></g>
<path d="M520 5h5.400l-2.700 3.200z" fill="#000"/>
<path d="M559 5h5.400l-2.700 3.200z" fill="#000"/>
<path d="M598 5h5.400l-2.700 3.200z" fill="#000"/>
<path d="M904 5h5.400l-2.700 3.200z" fill="#000"/>
<g><circle cx="543.900" cy="5.900" r="6.600" fill="#f2f6fb" stroke="#2467d2" stroke-width="2.300"/><circle cx="543.900" cy="5.900" r="4.600" fill="none" stroke="#c8d8ee" stroke-width="0.800"/><path d="M543.900 2v4.200h3" stroke="#707070" stroke-width="1" fill="none"/></g>
<g><rect x="575.500" y="-1" width="15" height="13.300" fill="#fff" stroke="#3b74d0" stroke-width="1"/><rect x="575.500" y="-1" width="15" height="2.500" fill="#3b74d0"/><path d="M575.500 6.800h15" stroke="#3b74d0" stroke-width="0.800"/><path d="M578 5l3-1l3 .500l3-1.500" stroke="#b03a1a" stroke-width="1.100" fill="none"/><path d="M578 10.500l3-1l2 .800l2.500-1.800l2 1.500" stroke="#2f9a2f" stroke-width="1.100" fill="none"/></g>
<path d="M627.200 -1v11.500l2.600-2.400l2.200 4.700l1.900-.900l-2.200-4.600h3.700z" fill="#404040"/>
<path d="M659.500 0v14M652 6.500h15" stroke="#404040" stroke-width="1" fill="none"/>
<path d="M693.500 0v12.800" stroke="#404040" stroke-width="1.100"/><path d="M715.800 6.500h12.500" stroke="#404040" stroke-width="1.100"/><path d="M743.600 13L756 1.200" stroke="#404040" stroke-width="1.100"/>
<g stroke="#404040" stroke-width="1" fill="none"><path d="M769.500 8.200L781 -0.200M772.400 12.800L784.700 3.800M771.200 6.200l3.600 5.600M773.700 4.400l3.600 5.600M776.200 2.600l3.600 5.600M778.700 0.800l3.600 5.600M770.800 10.500l9-6.600"/></g>
<g stroke="#404040" stroke-width="1" stroke-dasharray="1 1" fill="none"><path d="M799 2.500h13M799 6.500h13M799 10.500h9.500"/></g>
<g stroke="#404040" stroke-width="1" stroke-dasharray="1 1" fill="none" shape-rendering="crispEdges"><path d="M856 0.500h12M856 12.500h12M856.500 0v13M867.500 0v13"/></g>
<g fill="#404040"><path d="M883 3.300L886.500 -0.500L890 3.300L886.500 4.700z"/><path d="M885.100 7.700l2.100 1.900l4.200-5.100" stroke="#404040" stroke-width="1.200" fill="none"/><path d="M890.400 9.200L893.800 7.800L897.100 9.200L893.800 13z"/></g>
<g><path d="M1643.300 6.800l-4.200 4" stroke="#2458c8" stroke-width="2.200" stroke-linecap="round"/><circle cx="1646.800" cy="3.300" r="3.800" fill="#fff" stroke="#2f62d4" stroke-width="1.300"/></g>
<g><path d="M1666.500 14.500l1.500-3.200c-6-1.500-6-8 1.500-8.300c8 0 9 7 2.500 8.400c-2 .300-3 1-5.500 3.100z" fill="#e4e6ee" stroke="#b4b6be" stroke-width="0.700"/><circle cx="1677.500" cy="3.300" r="8.300" fill="#e23a1e"/></g>
</svg>
<div class="cj" style="left:33.500px;">新订单</div>
<div class="cj" style="left:186.500px;">自动交易</div>
<div class="tb" style="left:930.5px;">M1</div>
<div class="tb" style="left:958.3px;">M5</div>
<div class="tb" style="left:984.6px;">M15</div>
<div class="tb" style="left:1012.6px;">M30</div>
<div class="tb" style="left:1043.5px;">H1</div>
<div class="tb" style="left:1070.4px;">H4</div>
<div class="tb" style="left:1099.5px;">D1</div>
<div class="tb" style="left:1127.2px;">W1</div>
<div class="tb" style="left:1153.8px;">MN</div>
<div style="position:absolute;left:780.800px;top:8.500px;font-size:7px;line-height:7px;font-weight:bold;color:#404040;">E</div>
<div style="position:absolute;left:808.800px;top:8.500px;font-size:7px;line-height:7px;font-weight:bold;color:#404040;">F</div>
<div style="position:absolute;left:829.800px;top:1px;font-size:11.500px;line-height:13px;color:#484848;-webkit-text-stroke:0.300px #484848;">A</div>
<div style="position:absolute;left:858.600px;top:1.200px;font-size:11.500px;font-weight:bold;line-height:13px;color:#484848;">T</div>
<div style="position:absolute;left:1673.300px;top:-6px;font-size:15px;line-height:16px;font-weight:bold;color:#fff;font-family:'Liberation Serif',serif;">1</div>
</body></html>
